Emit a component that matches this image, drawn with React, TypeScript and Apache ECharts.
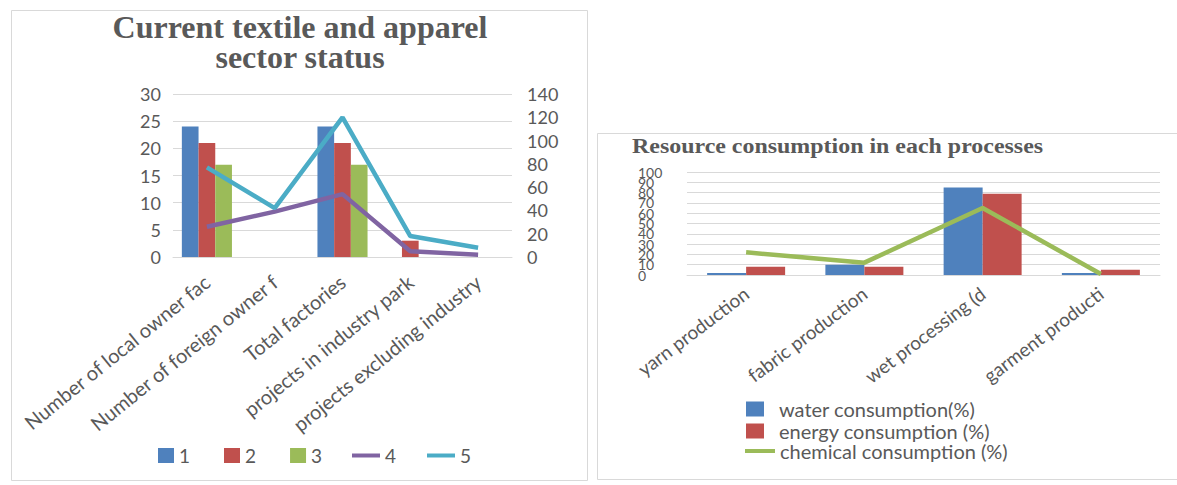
import React, { useEffect, useRef } from "react";
import * as echarts from "echarts";

const leftCategories = [
  "Number of local owner factories",
  "Number of foreign owner factories",
  "Total factories",
  "projects in industry park",
  "projects excluding industry park",
];
const series1 = [24, 0, 24, 0, 0];
const series2 = [21, 0, 21, 3, 0];
const series3 = [17, 0, 17, 0, 0];
const series4 = [26, 39, 54, 5, 2];
const series5 = [77, 42, 120, 18, 8];
const leftTitle = "Current textile and apparel\nsector status";

const rightCategories = [
  "yarn production",
  "fabric production",
  "wet processing (dyeing, printing, finishing)",
  "garment production",
];
const water = [2, 10, 85, 2];
const energy = [8, 8, 79, 5];
const chemical = [22, 12, 65, 1];
const rightTitle = "Resource consumption in each processes";

const GRAY = "#595959";
const GRID = "#d9d9d9";
const FONT = "Lato, 'Open Sans', sans-serif";
const SERIF = "'Liberation Serif', 'DejaVu Serif', serif";

export default function App() {
  const ref = useRef<HTMLDivElement>(null);
  useEffect(() => {
    if (!ref.current) return;
    const chart = echarts.init(ref.current, undefined, { renderer: "svg" });
    const barBase = (name: string, data: number[], color: string, xi: number, yi: number, w: number) => ({
      name,
      type: "bar",
      xAxisIndex: xi,
      yAxisIndex: yi,
      data,
      barWidth: w,
      barGap: "0%",
      itemStyle: { color },
    });
    const lineBase = (name: string, data: number[], color: string, xi: number, yi: number) => ({
      name,
      type: "line",
      xAxisIndex: xi,
      yAxisIndex: yi,
      data,
      symbol: "none",
      lineStyle: { color, width: 4.5 },
      itemStyle: { color },
    });
    const rightLabel = {
      color: GRAY,
      fontSize: 14,
      lineHeight: 10,
      fontFamily: FONT,
      margin: 49,
      align: "left",
    };
    chart.setOption({
      animation: false,
      textStyle: { fontFamily: FONT },
      graphic: [
        {
          type: "rect",
          shape: { x: 11.5, y: 10.5, width: 576, height: 470 },
          style: { fill: "none", stroke: GRID, lineWidth: 1 },
        },
        {
          type: "rect",
          shape: { x: 597.5, y: 133.5, width: 620, height: 346 },
          style: { fill: "none", stroke: GRID, lineWidth: 1 },
        },
        {
          type: "text",
          x: 300,
          y: 42,
          style: {
            text: leftTitle,
            fill: GRAY,
            font: "bold 32px " + SERIF,
            textAlign: "center",
            textVerticalAlign: "middle",
            lineHeight: 30,
          },
        },
        {
          type: "text",
          x: 632,
          y: 146,
          scaleX: 1.14,
          style: {
            text: rightTitle,
            fill: GRAY,
            font: "bold 21px " + SERIF,
            textAlign: "left",
            textVerticalAlign: "middle",
          },
        },
      ],
      legend: [
        {
          data: ["1", "2", "3"],
          left: 153,
          top: 441,
          icon: "rect",
          itemWidth: 16,
          itemHeight: 15,
          itemGap: 34,
          textStyle: { color: GRAY, fontSize: 19, fontFamily: FONT },
        },
        {
          data: ["4", "5"],
          left: 347,
          top: 441,
          icon: "rect",
          itemWidth: 28,
          itemHeight: 4,
          itemGap: 31,
          textStyle: { color: GRAY, fontSize: 19, fontFamily: FONT },
        },
        {
          data: ["water consumption(%)", "energy consumption (%)"],
          orient: "vertical",
          left: 741,
          top: 393,
          icon: "rect",
          itemWidth: 18,
          itemHeight: 15,
          itemGap: 0,
          textStyle: { color: GRAY, fontSize: 20, lineHeight: 22, fontFamily: FONT, padding: [0, 0, 0, 10] },
        },
        {
          data: ["chemical consumption (%)"],
          left: 740,
          top: 435,
          icon: "rect",
          itemWidth: 30,
          itemHeight: 4,
          textStyle: { color: GRAY, fontSize: 20, lineHeight: 22, fontFamily: FONT },
        },
      ],
      grid: [
        { left: 173, top: 94, width: 339, height: 163 },
        { left: 687, top: 172, width: 473, height: 103 },
      ],
      xAxis: [
        {
          gridIndex: 0,
          type: "category",
          data: leftCategories,
          axisLine: { lineStyle: { color: GRID } },
          axisTick: { show: false },
          axisLabel: {
            interval: 0,
            rotate: 39,
            margin: 22,
            color: GRAY,
            fontSize: 20,
            fontFamily: FONT,
            width: 239,
            overflow: "truncate",
            ellipsis: "",
          },
        },
        {
          gridIndex: 1,
          type: "category",
          data: rightCategories,
          axisLine: { lineStyle: { color: GRID } },
          axisTick: { show: false },
          axisLabel: {
            interval: 0,
            rotate: 37,
            margin: 16,
            color: GRAY,
            fontSize: 19,
            fontFamily: FONT,
            width: 154,
            overflow: "truncate",
            ellipsis: "",
          },
        },
      ],
      yAxis: [
        {
          gridIndex: 0,
          type: "value",
          min: 0,
          max: 30,
          interval: 5,
          axisLine: { show: false },
          axisTick: { show: false },
          splitLine: { lineStyle: { color: GRID } },
          axisLabel: { color: GRAY, fontSize: 18, fontFamily: FONT, margin: 12 },
        },
        {
          gridIndex: 0,
          type: "value",
          position: "right",
          min: 0,
          max: 140,
          interval: 20,
          axisLine: { show: false },
          axisTick: { show: false },
          splitLine: { show: false },
          axisLabel: { color: GRAY, fontSize: 18, fontFamily: FONT, margin: 15 },
        },
        {
          gridIndex: 1,
          type: "value",
          min: 0,
          max: 100,
          interval: 10,
          axisLine: { show: false },
          axisTick: { show: false },
          splitLine: { lineStyle: { color: GRID } },
          axisLabel: { ...rightLabel, showMinLabel: false, showMaxLabel: false },
        },
        {
          gridIndex: 1,
          type: "value",
          position: "left",
          min: 0,
          max: 100,
          interval: 100,
          axisLine: { show: false },
          axisTick: { show: false },
          splitLine: { show: false },
          axisLabel: { ...rightLabel, showMinLabel: true, showMaxLabel: true },
        },
      ],
      series: [
        barBase("1", series1, "#4F81BD", 0, 0, 16.7),
        barBase("2", series2, "#C0504D", 0, 0, 16.7),
        barBase("3", series3, "#9BBB59", 0, 0, 16.7),
        lineBase("4", series4, "#8064A2", 0, 1),
        lineBase("5", series5, "#4BACC6", 0, 1),
        barBase("water consumption(%)", water, "#4F81BD", 1, 2, 39),
        barBase("energy consumption (%)", energy, "#C0504D", 1, 2, 39),
        lineBase("chemical consumption (%)", chemical, "#9BBB59", 1, 2),
      ],
    });
    return () => chart.dispose();
  }, []);
  return (
    <div
      ref={ref}
      style={{ position: "fixed", left: 0, top: 0, width: 1177, height: 485, background: "#fff" }}
    />
  );
}
